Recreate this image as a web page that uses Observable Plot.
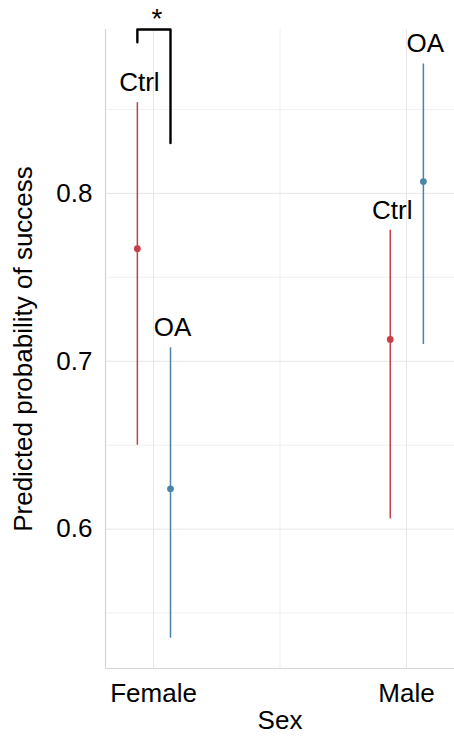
<!DOCTYPE html>
<html><head><meta charset="utf-8">
<script src="https://cdn.jsdelivr.net/npm/d3@7"></script>
<script src="https://cdn.jsdelivr.net/npm/@observablehq/plot@0.6"></script>
<style>body{margin:0;background:#fff;} svg{display:block;}</style>
</head><body><div id="chart"></div>
<script>
const sexes = ["Female", "Male"];
const groups = ["Ctrl", "OA", "Ctrl", "OA"];
const sexOf = ["Female", "Female", "Male", "Male"];
const estimate = [0.767, 0.624, 0.713, 0.807];
const lower = [0.650, 0.535, 0.606, 0.710];
const upper = [0.854, 0.708, 0.778, 0.877];
const majorY = [0.6, 0.7, 0.8];
const minorY = [0.55, 0.65, 0.75, 0.85];
const minorX = [1.5];
const bracketLevels = [0.890, 0.8976, 0.8976, 0.830];
const sigLabel = "*";

const dodge = {Ctrl: -0.064, OA: 0.067};
const colors = {Ctrl: "#c63e48", OA: "#4a84aa"};
const rows = groups.map((g, i) => ({
  group: g, sex: sexOf[i], est: estimate[i], lo: lower[i], hi: upper[i],
  x: sexes.indexOf(sexOf[i]) + 1 + dodge[g]
}));
const fCtrl = rows[0], fOA = rows[1];
const bracket = bracketLevels.map((y, i) => ({x: i < 2 ? fCtrl.x : fOA.x, y}));

const chart = Plot.plot({
  width: 454, height: 736,
  marginLeft: 105, marginRight: 0, marginTop: 29, marginBottom: 68,
  style: {fontFamily: "'Liberation Sans', Arial, sans-serif", fontSize: "26px", color: "#000", background: "#fff"},
  x: {domain: [0.81, 2.19]},
  y: {domain: [0.517, 0.8976]},
  marks: [
    Plot.ruleY(minorY, {stroke: "#f0f0f0", strokeWidth: 1}),
    Plot.ruleX(minorX, {stroke: "#f0f0f0", strokeWidth: 1}),
    Plot.ruleY(majorY, {stroke: "#e6e6e6", strokeWidth: 1}),
    Plot.ruleX([1, 2], {stroke: "#e6e6e6", strokeWidth: 1}),
    Plot.ruleX([0.81], {stroke: "#d4d4d4", strokeWidth: 1.2}),
    Plot.ruleY([0.517], {stroke: "#d4d4d4", strokeWidth: 1.2}),
    Plot.axisY({ticks: majorY, tickSize: 0, tickPadding: 13, tickFormat: d => d.toFixed(1), fontSize: 26,
      label: "Predicted probability of success", labelAnchor: "center", labelArrow: "none", labelOffset: 92}),
    Plot.axisX({ticks: [1, 2], tickSize: 0, tickPadding: 15, tickFormat: d => sexes[d - 1], fontSize: 26,
      label: "Sex", labelAnchor: "center", labelArrow: "none", labelOffset: 60}),
    Plot.ruleX(rows, {x: "x", y1: "lo", y2: "hi", stroke: d => colors[d.group], strokeWidth: 1.5}),
    Plot.dot(rows, {x: "x", y: "est", r: 3.4, fill: d => colors[d.group], stroke: "none"}),
    Plot.text(rows, {x: "x", y: "hi", text: "group", dy: -20, dx: 2, fontSize: 26, fill: "#000"}),
    Plot.line(bracket, {x: "x", y: "y", stroke: "#000", strokeWidth: 2.4, clip: false}),
    Plot.text([sigLabel], {x: (fCtrl.x + fOA.x) / 2, y: bracketLevels[1], text: d => d, dx: 3, dy: -10, fontSize: 28, fill: "#000"})
  ]
});
document.getElementById("chart").appendChild(chart);
</script></body></html>
